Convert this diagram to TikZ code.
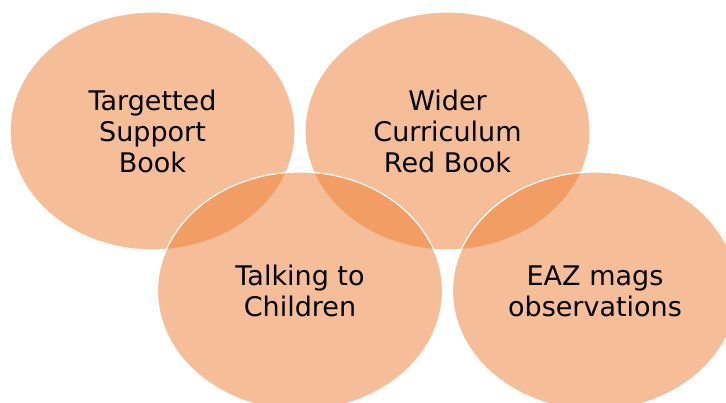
\documentclass[tikz,border=0pt]{standalone}
\usepackage{fontspec}
\setmainfont{DejaVu Sans}
\usetikzlibrary{shapes.geometric}
\definecolor{eorange}{HTML}{ED7D31}
\tikzset{
  venn/.style={ellipse, minimum width=285pt, minimum height=238pt, inner sep=0pt,
    fill=eorange, fill opacity=0.5, text opacity=1, draw=white, line width=1.2pt,
    align=center, font=\fontsize{27}{31}\selectfont, text=black}
}
\begin{document}
\begin{tikzpicture}[x=1pt,y=-1pt]
\useasboundingbox (0,0) rectangle (726,403);
\begin{scope}
\clip (0,0) rectangle (726,403);
\node[venn] (tsb) at (152.5,131) {Targetted\\Support\\Book};
\node[venn] (wcr) at (447.5,131) {Wider\\Curriculum\\Red Book};
\node[venn] (ttc) at (300,291) {Talking to\\Children};
\node[venn] (eaz) at (595,291) {EAZ mags\\observations};
\end{scope}
\end{tikzpicture}
\end{document}
